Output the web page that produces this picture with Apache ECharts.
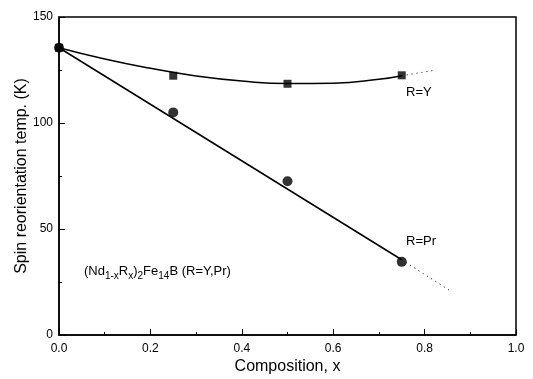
<!DOCTYPE html>
<html>
<head>
<meta charset="utf-8">
<script src="https://cdn.jsdelivr.net/npm/echarts@6/dist/echarts.min.js"></script>
<style>
  html, body { margin: 0; padding: 0; background: #fff; }
  #chart { width: 533px; height: 379px; }
</style>
</head>
<body>
<div id="chart"></div>
<script>
// measured points
const yPoints = [[0, 135.5], [0.25, 122.3], [0.5, 118.5], [0.75, 122.5]]
const prPoints = [[0, 135.5], [0.25, 105], [0.5, 72.5], [0.75, 34.5]]

// fitted curves
const yFit = [[0, 135.5], [0.1, 130.2], [0.2, 125.8], [0.3, 122.2], [0.4, 119.8], [0.5, 118.6], [0.6, 118.8], [0.7, 120.6], [0.75, 122.3]]
const yFitExt = [[0.75, 122.3], [0.82, 124.8]]
const prFit = [[0, 135.5], [0.75, 35.5]]
const prFitExt = [[0.75, 35.5], [0.855, 21]]

const xTicks = [0, 0.2, 0.4, 0.6, 0.8, 1.0]
const yTicks = [0, 50, 100, 150]

const chart = echarts.init(document.getElementById('chart'))
const font = 'Liberation Sans, Arial, sans-serif'

chart.setOption({
  animation: false,
  grid: {
    left: 59, right: 17, top: 17, bottom: 44,
    outerBoundsMode: 'none',
    show: true, borderColor: '#000', borderWidth: 1.5
  },
  xAxis: {
    type: 'value',
    min: xTicks[0],
    max: xTicks[xTicks.length - 1],
    interval: 0.2,
    name: 'Composition, x',
    nameLocation: 'middle',
    nameGap: 24,
    nameMoveOverlap: false,
    nameTextStyle: { color: '#000', fontSize: 16, fontFamily: font },
    axisLine: { lineStyle: { color: '#000', width: 1.5 } },
    axisTick: { inside: true, length: 6, lineStyle: { color: '#000' } },
    minorTick: { show: true, splitNumber: 2, length: 3, lineStyle: { color: '#000' } },
    axisLabel: { color: '#000', fontSize: 12, fontFamily: font, margin: 8, formatter: (v) => v.toFixed(1) },
    splitLine: { show: false }
  },
  yAxis: {
    type: 'value',
    min: yTicks[0],
    max: yTicks[yTicks.length - 1],
    interval: 50,
    name: 'Spin reorientation temp. (K)',
    nameLocation: 'middle',
    nameGap: 29,
    nameMoveOverlap: false,
    nameTextStyle: { color: '#000', fontSize: 16, fontFamily: font },
    axisLine: { lineStyle: { color: '#000', width: 1.5 } },
    axisTick: { inside: true, length: 6, lineStyle: { color: '#000' } },
    minorTick: { show: true, splitNumber: 2, length: 3, lineStyle: { color: '#000' } },
    axisLabel: { color: '#000', fontSize: 12, fontFamily: font, margin: 6 },
    splitLine: { show: false }
  },
  series: [
    {
      type: 'line', data: yFit, smooth: true, showSymbol: false,
      lineStyle: { color: '#000', width: 1.5 }, z: 2
    },
    {
      type: 'line', data: yFitExt, showSymbol: false,
      lineStyle: { color: '#000', width: 1, type: [1, 4] }, z: 2
    },
    {
      type: 'line', data: prFit, showSymbol: false,
      lineStyle: { color: '#000', width: 1.5 }, z: 2
    },
    {
      type: 'line', data: prFitExt, showSymbol: false,
      lineStyle: { color: '#000', width: 1, type: [1, 4] }, z: 2
    },
    {
      type: 'scatter', data: yPoints, symbol: 'rect', symbolSize: 8,
      itemStyle: { color: '#000' }, z: 3
    },
    {
      type: 'scatter', data: prPoints, symbol: 'circle', symbolSize: 10,
      itemStyle: { color: '#000' }, z: 3
    }
  ],
  graphic: [
    {
      type: 'text', left: 406, top: 86,
      style: { text: 'R=Y', fill: '#000', font: '13px ' + font }
    },
    {
      type: 'text', left: 406, top: 235,
      style: { text: 'R=Pr', fill: '#000', font: '13px ' + font }
    },
    {
      type: 'text', left: 84, top: 265,
      style: {
        text: '(Nd{s|1-x}R{s|x}){s|2}Fe{s|14}B (R=Y,Pr)',
        fill: '#000',
        font: '13px ' + font,
        rich: {
          s: { fontSize: 10, fontFamily: font, fill: '#000', padding: [10, 0, 0, 0] }
        }
      }
    }
  ]
})
</script>
</body>
</html>
